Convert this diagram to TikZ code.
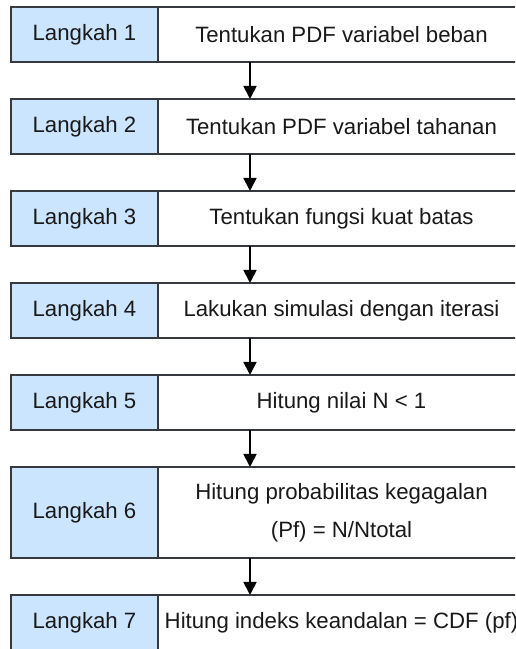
\documentclass[tikz,border=0pt]{standalone}
\usepackage{fontspec}
\setmainfont{Liberation Sans}
\usetikzlibrary{positioning,arrows.meta}
\definecolor{stepblue}{HTML}{CCE5FF}
\definecolor{boxline}{HTML}{36393D}

\begin{document}
\begin{tikzpicture}[
    x=1pt, y=1pt,
    every node/.style={font=\fontsize{22.2}{38}\selectfont, outer sep=0pt, text=black!90},
    stepbox/.style={draw=boxline, line width=1.8pt, fill=stepblue,
      minimum width=147pt, minimum height=55pt, inner sep=0pt},
    descbox/.style={draw=boxline, line width=1.8pt, fill=white,
      minimum width=367pt, minimum height=55pt, inner sep=0pt, align=center},
    flow/.style={draw, line width=1.8pt, -{Triangle[length=13pt,width=13pt]}}
  ]
  \clip (0,0) rectangle (515,649);

  % langkah (left column)
  \node[stepbox] (step1) at (84.5,614.5) {Langkah 1};
  \node[stepbox, below=37pt of step1] (step2) {Langkah 2};
  \node[stepbox, below=37pt of step2] (step3) {Langkah 3};
  \node[stepbox, below=37pt of step3] (step4) {Langkah 4};
  \node[stepbox, below=37pt of step4] (step5) {Langkah 5};
  \node[stepbox, below=37pt of step5, minimum height=91pt] (step6) {Langkah 6};
  \node[stepbox, below=37pt of step6] (step7) {Langkah 7};

  % keterangan (right column)
  \node[descbox, right=0pt of step1] (desc1) {Tentukan PDF variabel beban};
  \node[descbox, right=0pt of step2] (desc2) {Tentukan PDF variabel tahanan};
  \node[descbox, right=0pt of step3] (desc3) {Tentukan fungsi kuat batas};
  \node[descbox, right=0pt of step4] (desc4) {Lakukan simulasi dengan iterasi};
  \node[descbox, right=0pt of step5] (desc5) {Hitung nilai N < 1};
  \node[descbox, right=0pt of step6, minimum height=91pt] (desc6)
    {Hitung probabilitas kegagalan\\(Pf) = N/Ntotal};
  \node[descbox, right=0pt of step7] (desc7) {Hitung indeks keandalan = CDF (pf)};

  % panah
  \foreach \i [evaluate=\i as \j using int(\i+1)] in {1,...,6}
    \draw[flow] ([xshift=92pt]desc\i.south west) -- ([xshift=92pt]desc\j.north west);
\end{tikzpicture}
\end{document}
